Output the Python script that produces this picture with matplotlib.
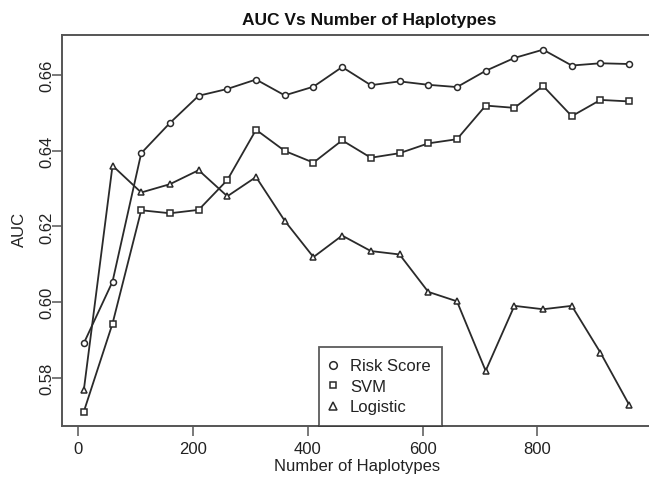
import matplotlib
matplotlib.use("Agg")
import matplotlib.pyplot as plt
from matplotlib.lines import Line2D

plt.rcParams['font.family'] = ['Liberation Sans', 'DejaVu Sans']

haplotypes = [10, 60, 110, 160, 210, 260, 310, 360, 410, 460,
              510, 560, 610, 660, 710, 760, 810, 860, 910, 960]
risk_score = [0.5891, 0.6054, 0.6394, 0.6474, 0.6546, 0.6564, 0.6589, 0.6547, 0.6570, 0.6622,
              0.6574, 0.6584, 0.6575, 0.6569, 0.6612, 0.6646, 0.6668, 0.6626, 0.6632, 0.6630]
svm = [0.5710, 0.5943, 0.6243, 0.6235, 0.6244, 0.6323, 0.6456, 0.6400, 0.6369, 0.6428,
       0.6382, 0.6394, 0.6420, 0.6431, 0.6520, 0.6514, 0.6572, 0.6492, 0.6535, 0.6531]
logistic = [0.5767, 0.6361, 0.6290, 0.6312, 0.6349, 0.6280, 0.6331, 0.6215, 0.6119, 0.6176,
            0.6135, 0.6126, 0.6027, 0.6002, 0.5818, 0.5990, 0.5981, 0.5990, 0.5866, 0.5728]
series_names = ["Risk Score", "SVM", "Logistic"]
x_ticks = [0, 200, 400, 600, 800]
y_ticks = [0.58, 0.60, 0.62, 0.64, 0.66]
y_tick_labels = ["0.58", "0.60", "0.62", "0.64", "0.66"]

W, H = 649, 481
fig = plt.figure(figsize=(W / 100, H / 100), dpi=100)
left, right, top, bottom = 62, 651, 36.3, 427
ax = fig.add_axes([left / W, 1 - bottom / H, (right - left) / W, (bottom - top) / H])

line_col = '#2a2a2a'
markers = ['o', 's', '^']
msizes = [4.3, 4.0, 5.0]
for vals, m, ms in zip([risk_score, svm, logistic], markers, msizes):
    ax.plot(haplotypes, vals, color=line_col, lw=1.3, marker=m, ms=ms,
            mfc='white', mec=line_col, mew=1.1)

ax.set_xlim(-28, 998)
ax.set_ylim(0.5672, 0.6706)
ax.set_xticks(x_ticks)
ax.set_xticklabels([str(t) for t in x_ticks])
ax.set_yticks(y_ticks)
ax.set_yticklabels(y_tick_labels, rotation=90, va='center')

spine_col = '#555555'
for s in ax.spines.values():
    s.set_color(spine_col)
    s.set_linewidth(1.4)
ax.tick_params(axis='both', direction='out', length=7, width=1.1, color=spine_col,
               labelsize=12, labelcolor='#222222')
ax.tick_params(axis='x', pad=4)
ax.tick_params(axis='y', pad=-1.5)

handles = [Line2D([], [], ls='none', marker=m, ms=ms, mfc='white', mec=line_col, mew=1.1)
           for m, ms in zip(markers, [5.5, 5.0, 6.0])]
leg = ax.legend(handles, series_names, loc='lower left',
                bbox_to_anchor=((319 - left) / (right - left), 0.0),
                borderaxespad=0, fancybox=False, fontsize=12, frameon=True,
                handlelength=0.3, handletextpad=0.86, labelspacing=0.33,
                borderpad=0.7, edgecolor='#333333')
leg.get_frame().set_linewidth(1.3)
for t in leg.get_texts():
    t.set_color('#222222')

fig.text(369 / W, 1 - 21 / H, "AUC Vs Number of Haplotypes", ha='center', va='center',
         fontsize=12.5, fontweight='bold', color='#111111')
fig.text(356.7 / W, 1 - 466 / H, "Number of Haplotypes", ha='center', va='center',
         fontsize=12, color='#222222')
fig.text(19 / W, 1 - 229 / H, "AUC", ha='center', va='center', rotation=90,
         fontsize=12, color='#222222')

fig.savefig("out.png", dpi=100)
